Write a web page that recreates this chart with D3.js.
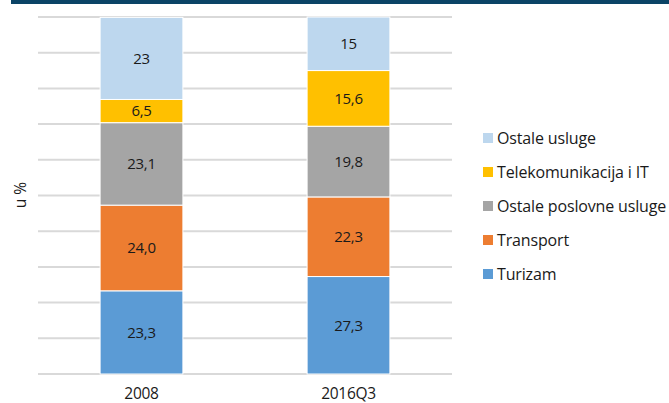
<!DOCTYPE html>
<html><head><meta charset="utf-8">
<script src="https://cdn.jsdelivr.net/npm/d3@7"></script>
<style>body{margin:0;background:#fff}svg{display:block}text{font-family:"Open Sans",sans-serif}</style>
</head><body>
<svg id="c" width="669" height="403"></svg>
<script>
const categories = ["2008", "2016Q3"];
const seriesNames = ["Turizam", "Transport", "Ostale poslovne usluge", "Telekomunikacija i IT", "Ostale usluge"];
const turizam = [23.3, 27.3];
const transport = [24.0, 22.3];
const ostalePoslovne = [23.1, 19.8];
const telekom = [6.5, 15.6];
const ostaleUsluge = [23, 15];
const labelText = [["23,3","24,0","23,1","6,5","23"],["27,3","22,3","19,8","15,6","15"]];
const yTicks = [0,10,20,30,40,50,60,70,80,90,100];
const colors = ["#5b9bd5", "#ed7d31", "#a5a5a5", "#ffc000", "#bdd7ee"];

const svg = d3.select("#c");
svg.append("rect").attr("x", 11).attr("y", 0).attr("width", 658).attr("height", 4).attr("fill", "#0b4466");

const x = d3.scaleBand().domain(categories).range([38, 452]).paddingInner(0.6).paddingOuter(0.3);
const y = d3.scaleLinear().domain([0, 100]).range([374, 17]);

svg.append("g").selectAll("line").data(yTicks).join("line")
  .attr("x1", 38).attr("x2", 452).attr("y1", d => y(d)).attr("y2", d => y(d))
  .attr("stroke", "#d9d9d9").attr("stroke-width", 2);

const rows = categories.map((c, i) => ({cat: c, s0: turizam[i], s1: transport[i], s2: ostalePoslovne[i], s3: telekom[i], s4: ostaleUsluge[i]}));
const stack = d3.stack().keys(["s0","s1","s2","s3","s4"])(rows);

stack.forEach((layer, k) => {
  const g = svg.append("g");
  g.selectAll("rect").data(layer).join("rect")
    .attr("x", d => x(d.data.cat)).attr("width", x.bandwidth())
    .attr("y", d => y(d[1])).attr("height", d => y(d[0]) - y(d[1]))
    .attr("fill", colors[k]).attr("stroke", "#fff").attr("stroke-width", 1);
  g.selectAll("text").data(layer).join("text")
    .attr("x", d => x(d.data.cat) + x.bandwidth() / 2)
    .attr("y", d => (y(d[0]) + y(d[1])) / 2)
    .attr("dy", "0.35em").attr("text-anchor", "middle")
    .attr("font-size", 15).attr("letter-spacing", -0.3).attr("fill", "#1a1a1a")
    .text((d, i) => labelText[i][k]);
});

svg.append("g").selectAll("text").data(categories).join("text")
  .attr("x", d => x(d) + x.bandwidth() / 2).attr("y", 394).attr("dy", "0.35em")
  .attr("text-anchor", "middle").attr("font-size", 15.5).attr("letter-spacing", -0.3).attr("fill", "#1a1a1a").text(d => d);

svg.append("text").attr("transform", "translate(21,195) rotate(-90)")
  .attr("text-anchor", "middle").attr("dy", "0.35em").attr("font-size", 15.5).attr("fill", "#1a1a1a").text("u %");

const legendOrder = [4, 3, 2, 1, 0];
const lg = svg.append("g").selectAll("g").data(legendOrder).join("g")
  .attr("transform", (d, i) => `translate(483,${138 + i * 34})`);
lg.append("rect").attr("x", 0).attr("y", -5).attr("width", 10).attr("height", 10).attr("fill", d => colors[d]);
lg.append("text").attr("x", 14).attr("dy", "0.35em").attr("font-size", 16).attr("letter-spacing", -0.15).attr("fill", "#1a1a1a").text(d => seriesNames[d]);
</script>
</body></html>
